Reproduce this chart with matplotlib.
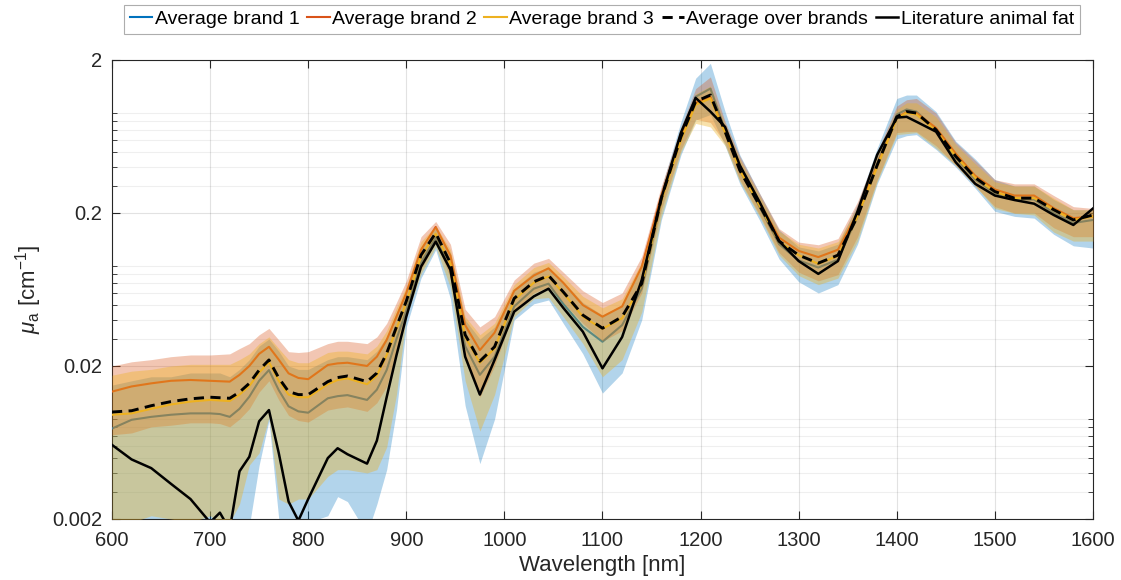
import matplotlib
matplotlib.use("Agg")
import matplotlib.pyplot as plt
from matplotlib.ticker import LogLocator, FixedLocator, FixedFormatter, NullFormatter

# wavelength grid [nm]
wl = [600, 620, 640, 660, 680, 700, 710, 720, 730, 740, 750, 760, 770, 780, 790, 800,
      820, 830, 840, 860, 870, 880, 890, 900, 915, 930, 945, 960, 975, 990, 1010, 1030,
      1045, 1060, 1080, 1100, 1120, 1140, 1160, 1180, 1195, 1210, 1225, 1240, 1260, 1280,
      1300, 1320, 1340, 1360, 1380, 1400, 1410, 1420, 1440, 1460, 1480, 1500, 1520, 1540,
      1560, 1580, 1600]

# mean absorption per brand [cm^-1]
b1 = [0.0078, 0.0089, 0.0093, 0.0096, 0.0098, 0.0098, 0.0097, 0.0093, 0.0105, 0.0126, 0.0160, 0.0188,
      0.0139, 0.0109, 0.0101, 0.0099, 0.0123, 0.0127, 0.0129, 0.0120, 0.0140, 0.0188, 0.030, 0.046,
      0.095, 0.138, 0.085, 0.027, 0.0175, 0.023, 0.049, 0.064, 0.069, 0.051, 0.036, 0.0288, 0.037,
      0.064, 0.24, 0.66, 1.15, 1.30, 0.70, 0.38, 0.22, 0.125, 0.098, 0.088, 0.099, 0.19, 0.42, 0.88,
      0.95, 0.92, 0.70, 0.46, 0.33, 0.27, 0.245, 0.245, 0.20, 0.172, 0.18]
b2 = [0.0136, 0.0147, 0.0154, 0.0160, 0.0162, 0.0160, 0.0159, 0.0158, 0.0175, 0.020, 0.024, 0.0267,
      0.022, 0.0179, 0.0167, 0.0164, 0.0203, 0.0208, 0.0210, 0.020, 0.023, 0.0296, 0.042, 0.060,
      0.115, 0.162, 0.105, 0.037, 0.0254, 0.033, 0.062, 0.078, 0.087, 0.070, 0.050, 0.042, 0.049,
      0.089, 0.26, 0.64, 1.05, 1.15, 0.68, 0.39, 0.235, 0.138, 0.113, 0.103, 0.115, 0.20, 0.41, 0.84,
      0.91, 0.90, 0.72, 0.49, 0.35, 0.285, 0.26, 0.26, 0.215, 0.185, 0.19]
b3 = [0.0096, 0.0098, 0.0105, 0.0112, 0.0117, 0.0120, 0.0119, 0.0118, 0.0130, 0.0148, 0.0181, 0.0212,
      0.0160, 0.0130, 0.0125, 0.0125, 0.0152, 0.0162, 0.0166, 0.0152, 0.0173, 0.0235, 0.035, 0.052,
      0.104, 0.146, 0.093, 0.031, 0.021, 0.026, 0.054, 0.070, 0.077, 0.060, 0.042, 0.035, 0.041,
      0.068, 0.24, 0.60, 1.02, 1.12, 0.67, 0.38, 0.225, 0.13, 0.106, 0.093, 0.105, 0.19, 0.40, 0.83,
      0.90, 0.88, 0.69, 0.47, 0.34, 0.275, 0.25, 0.25, 0.21, 0.18, 0.19]

# spread per brand (lower / upper edge)
b1_lo = [0.0012, 0.0013, 0.0018, 0.0019, 0.0014, 0.0017, 0.0013, 0.0012, 0.0015, 0.0018, 0.0045, 0.0088,
         0.0020, 0.0017, 0.0019, 0.0019, 0.0021, 0.0028, 0.0026, 0.0016, 0.0025, 0.0042, 0.0103, 0.036,
         0.075, 0.115, 0.055, 0.011, 0.0046, 0.009, 0.040, 0.051, 0.054, 0.038, 0.024, 0.0133, 0.018,
         0.040, 0.18, 0.48, 0.81, 0.88, 0.55, 0.31, 0.18, 0.10, 0.071, 0.060, 0.068, 0.125, 0.31, 0.61,
         0.64, 0.65, 0.52, 0.40, 0.29, 0.205, 0.19, 0.185, 0.145, 0.122, 0.118]
b1_hi = [0.015, 0.016, 0.017, 0.017, 0.018, 0.018, 0.018, 0.017, 0.019, 0.022, 0.027, 0.030,
         0.025, 0.020, 0.019, 0.019, 0.022, 0.023, 0.023, 0.022, 0.025, 0.031, 0.045, 0.062,
         0.12, 0.16, 0.11, 0.040, 0.030, 0.036, 0.064, 0.082, 0.088, 0.071, 0.052, 0.043, 0.050,
         0.088, 0.29, 0.79, 1.52, 1.9, 0.92, 0.48, 0.27, 0.155, 0.12, 0.113, 0.125, 0.23, 0.53, 1.12,
         1.18, 1.18, 0.92, 0.59, 0.45, 0.33, 0.30, 0.30, 0.245, 0.21, 0.21]
b2_lo = [0.0071, 0.0073, 0.0080, 0.0082, 0.0085, 0.0085, 0.0084, 0.0080, 0.0090, 0.0105, 0.0135, 0.0160,
         0.0120, 0.0095, 0.0088, 0.0086, 0.0103, 0.0106, 0.0108, 0.0101, 0.0115, 0.0147, 0.025, 0.045,
         0.085, 0.130, 0.075, 0.022, 0.0125, 0.020, 0.046, 0.060, 0.066, 0.052, 0.038, 0.029, 0.034,
         0.060, 0.21, 0.52, 0.82, 0.78, 0.57, 0.33, 0.195, 0.11, 0.082, 0.072, 0.079, 0.14, 0.33, 0.67,
         0.68, 0.68, 0.55, 0.41, 0.30, 0.22, 0.20, 0.20, 0.16, 0.14, 0.14]
b2_hi = [0.020, 0.0213, 0.022, 0.023, 0.0236, 0.0236, 0.0238, 0.024, 0.026, 0.028, 0.032, 0.0352,
         0.0296, 0.0248, 0.0245, 0.0248, 0.028, 0.029, 0.029, 0.028, 0.031, 0.038, 0.052, 0.072,
         0.14, 0.176, 0.125, 0.047, 0.036, 0.042, 0.073, 0.094, 0.101, 0.082, 0.062, 0.052, 0.060,
         0.104, 0.30, 0.73, 1.3, 1.55, 0.79, 0.47, 0.27, 0.158, 0.129, 0.124, 0.136, 0.237, 0.50, 1.0,
         1.1, 1.12, 0.90, 0.58, 0.44, 0.33, 0.31, 0.31, 0.26, 0.22, 0.214]
b3_lo = [0.0018, 0.0019, 0.0021, 0.0020, 0.0019, 0.0021, 0.0019, 0.0019, 0.0025, 0.0045, 0.0054, 0.0092,
         0.0027, 0.0025, 0.0027, 0.0027, 0.0038, 0.0042, 0.0042, 0.0040, 0.0042, 0.0059, 0.013, 0.042,
         0.08, 0.12, 0.065, 0.016, 0.0075, 0.013, 0.042, 0.055, 0.056, 0.042, 0.028, 0.017, 0.022,
         0.045, 0.19, 0.50, 0.77, 0.73, 0.55, 0.32, 0.19, 0.106, 0.078, 0.068, 0.075, 0.131, 0.32, 0.65,
         0.66, 0.67, 0.53, 0.41, 0.30, 0.214, 0.199, 0.194, 0.15, 0.131, 0.131]
b3_hi = [0.0174, 0.0185, 0.019, 0.020, 0.0205, 0.0205, 0.0205, 0.0205, 0.022, 0.024, 0.028, 0.031,
         0.026, 0.022, 0.021, 0.021, 0.0245, 0.025, 0.025, 0.024, 0.027, 0.034, 0.048, 0.066,
         0.13, 0.165, 0.115, 0.042, 0.032, 0.038, 0.068, 0.088, 0.095, 0.077, 0.057, 0.048, 0.055,
         0.096, 0.28, 0.70, 1.2, 1.35, 0.76, 0.45, 0.26, 0.152, 0.125, 0.118, 0.13, 0.22, 0.48, 0.95,
         1.05, 1.05, 0.85, 0.56, 0.42, 0.32, 0.30, 0.30, 0.25, 0.21, 0.21]

# average over brands and literature value
avg = [0.0100, 0.0102, 0.0110, 0.0117, 0.0122, 0.0125, 0.0124, 0.0123, 0.0135, 0.0154, 0.0188, 0.0219,
       0.0167, 0.0136, 0.0130, 0.0130, 0.0158, 0.0168, 0.0172, 0.0158, 0.0180, 0.0242, 0.036, 0.053,
       0.106, 0.148, 0.094, 0.032, 0.0215, 0.0267, 0.0553, 0.071, 0.078, 0.061, 0.043, 0.0353, 0.042,
       0.069, 0.25, 0.63, 1.07, 1.18, 0.68, 0.38, 0.225, 0.131, 0.106, 0.094, 0.106, 0.19, 0.41, 0.85,
       0.92, 0.90, 0.70, 0.47, 0.34, 0.276, 0.25, 0.25, 0.21, 0.18, 0.194]
lit = [0.0061, 0.0049, 0.0043, 0.0034, 0.0027, 0.0019, 0.0022, 0.0017, 0.0041, 0.0051, 0.0087, 0.0103,
       0.0054, 0.0026, 0.00195, 0.0027, 0.0050, 0.0058, 0.0053, 0.0046, 0.0065, 0.0125, 0.0235, 0.042,
       0.089, 0.130, 0.085, 0.023, 0.0130, 0.0219, 0.0453, 0.057, 0.064, 0.048, 0.0335, 0.0193, 0.0309,
       0.073, 0.25, 0.67, 1.13, 0.92, 0.73, 0.41, 0.237, 0.131, 0.097, 0.080, 0.097, 0.205, 0.48, 0.84,
       0.85, 0.79, 0.68, 0.43, 0.31, 0.26, 0.243, 0.23, 0.194, 0.167, 0.214]

labels = ["Average brand 1", "Average brand 2", "Average brand 3",
          "Average over brands", "Literature animal fat"]
yticks = [0.002, 0.02, 0.2, 2]
ytick_labels = ["0.002", "0.02", "0.2", "2"]

c1 = (0.0, 0.447, 0.741)
c2 = (0.85, 0.325, 0.098)
c3 = (0.929, 0.694, 0.125)
dark = (0.15, 0.15, 0.15)

plt.rcParams["font.family"] = ["Liberation Sans", "DejaVu Sans"]
plt.rcParams["mathtext.fontset"] = "custom"
plt.rcParams["mathtext.rm"] = "Liberation Sans"
plt.rcParams["mathtext.it"] = "Liberation Sans:italic"

fig = plt.figure(figsize=(11.21, 5.80), dpi=100)
ax = fig.add_axes([0.0999, 0.1052, 0.8751, 0.7914])

ax.fill_between(wl, b1_lo, b1_hi, color=c1, alpha=0.3, lw=0, zorder=2)
l1, = ax.plot(wl, b1, color=c1, lw=1.5, zorder=3)
ax.fill_between(wl, b2_lo, b2_hi, color=c2, alpha=0.33, lw=0, zorder=4)
l2, = ax.plot(wl, b2, color=c2, lw=1.5, zorder=5)
ax.fill_between(wl, b3_lo, b3_hi, color=c3, alpha=0.38, lw=0, zorder=6)
l3, = ax.plot(wl, b3, color=c3, lw=1.5, zorder=7)
l4, = ax.plot(wl, avg, color="black", lw=2.1, ls=(0, (3.5, 2.2)), zorder=8)
l5, = ax.plot(wl, lit, color="black", lw=1.8, zorder=9)

ax.set_yscale("log")
ax.set_xlim(600, 1600)
ax.set_ylim(0.002, 2)
ax.set_xticks(range(600, 1601, 100))
ax.yaxis.set_major_locator(FixedLocator(yticks))
ax.yaxis.set_major_formatter(FixedFormatter(ytick_labels))
ax.yaxis.set_minor_locator(LogLocator(base=10, subs=range(2, 10)))
ax.yaxis.set_minor_formatter(NullFormatter())

ax.grid(True, which="major", color=(0.15, 0.15, 0.15), alpha=0.13, lw=0.8)
ax.grid(True, which="minor", axis="y", color=(0.15, 0.15, 0.15), alpha=0.07, lw=0.8)
ax.set_axisbelow(True)

ax.tick_params(which="both", direction="in", top=True, right=True, colors=dark,
               labelsize=14.5, labelcolor=dark)
ax.tick_params(which="major", length=6, width=0.8)
ax.tick_params(which="minor", length=3.5, width=0.6)
ax.tick_params(axis="x", pad=9)
ax.tick_params(axis="y", pad=7)
for s in ax.spines.values():
    s.set_color(dark)
    s.set_linewidth(0.8)

ax.set_xlabel("Wavelength [nm]", fontsize=16, color=dark, labelpad=3)
ax.set_ylabel(r"$\mu_{\rm a}$ [cm$^{-1}$]", fontsize=16, color=dark, labelpad=6)

leg = fig.legend([l1, l2, l3, l4, l5], labels, loc="upper center",
                 bbox_to_anchor=(0.537, 0.992), ncol=5, fontsize=14,
                 frameon=True, fancybox=False, handlelength=1.15, handletextpad=0.12,
                 columnspacing=0.4, borderpad=0.3, borderaxespad=0.0)
leg.get_frame().set_edgecolor((0.6, 0.6, 0.6))
leg.get_frame().set_linewidth(0.8)

fig.savefig("out.png", dpi=100)
